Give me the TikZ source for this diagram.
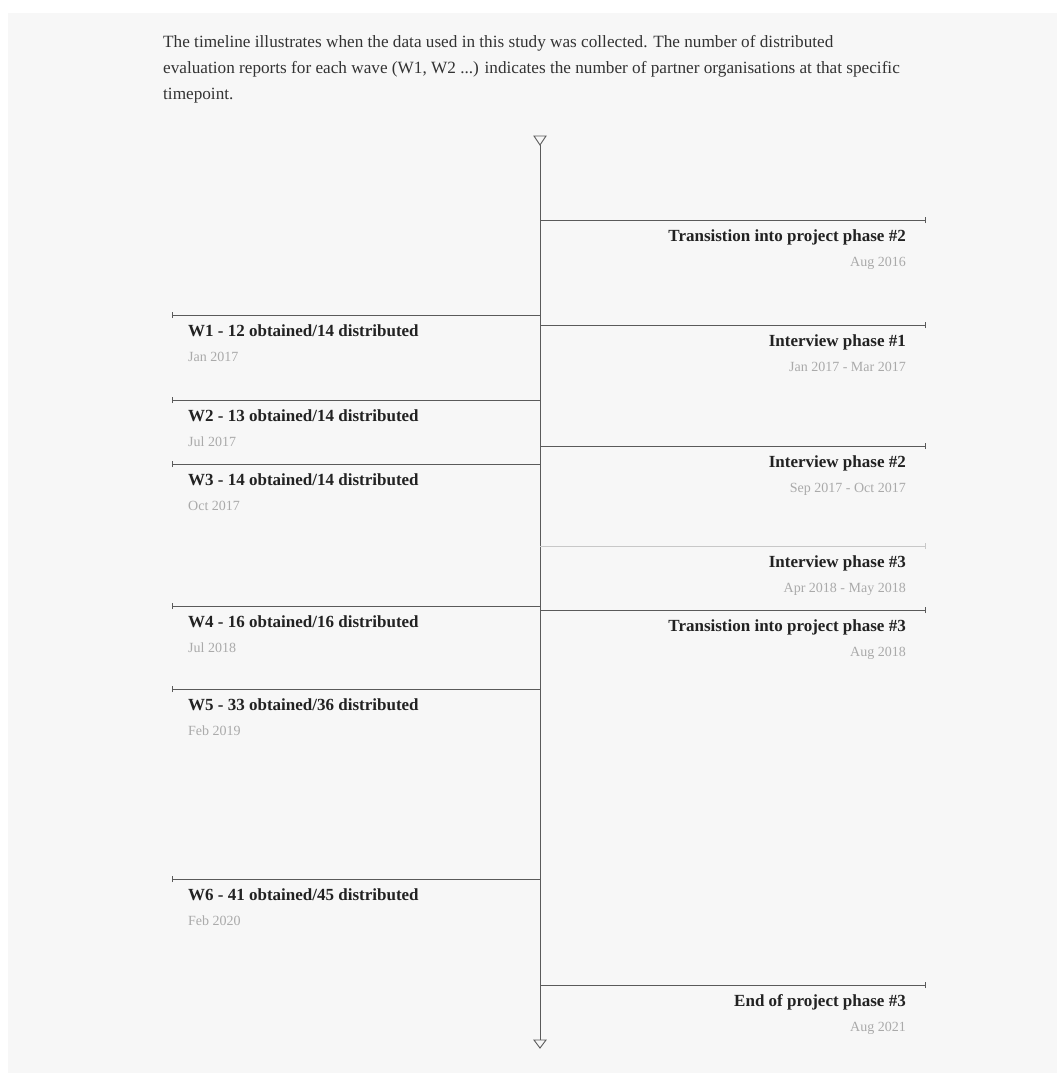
\documentclass[tikz,border=0pt]{standalone}
\usepackage{fontspec}
\setmainfont{Liberation Serif}
\definecolor{bgc}{HTML}{F7F7F7}
\definecolor{linec}{HTML}{5A5A5A}
\definecolor{lightl}{HTML}{C8C8C8}
\definecolor{titlec}{HTML}{222222}
\definecolor{datec}{HTML}{AAAAAA}
\definecolor{headc}{HTML}{333333}
\begin{document}
\begin{tikzpicture}[x=1pt,y=-1pt,
  evline/.style={draw=linec, line width=1pt},
  evlight/.style={draw=lightl, line width=1pt},
  evtitle/.style={inner sep=0pt, text=titlec, font=\fontsize{17}{19}\selectfont\bfseries},
  evdate/.style={inner sep=0pt, text=datec, font=\fontsize{14}{16}\selectfont},
  tri/.style={draw=linec, line width=0.9pt, fill=bgc}
]
\useasboundingbox (0,0) rectangle (1057,1073);
\fill[bgc] (8,13) rectangle (1057,1073);
% header
\node[anchor=north west, inner sep=0pt, align=left, text=headc,
  font=\fontsize{17.2}{26}\selectfont] (head) at (163,35)
  {The timeline illustrates when the data used in this study was collected. The number of distributed\\
   evaluation reports for each wave (W1, W2 ...) indicates the number of partner organisations at that specific\\
   timepoint.};
% axis
\coordinate (top) at (540,145);
\coordinate (bot) at (540,1040);
\draw[linec, line width=1pt] (top) -- (bot);
\draw[tri] (534,136) -- (546,136) -- (540,145) -- cycle;
\draw[tri] (534,1040) -- (546,1040) -- (540,1048) -- cycle;
% right events
\foreach \n/\y/\t/\d/\s in {
  r1/220/{Transistion into project phase \#2}/{Aug 2016}/evline,
  r2/325/{Interview phase \#1}/{Jan 2017 - Mar 2017}/evline,
  r3/446/{Interview phase \#2}/{Sep 2017 - Oct 2017}/evline,
  r4/546/{Interview phase \#3}/{Apr 2018 - May 2018}/evlight,
  r5/610/{Transistion into project phase \#3}/{Aug 2018}/evline,
  r6/985/{End of project phase \#3}/{Aug 2021}/evline}{
  \coordinate (\n a) at (540,\y);
  \coordinate (\n b) at (925,\y);
  \draw[\s] (\n a) -- (\n b);
  \draw[\s] ([yshift=-3]\n b) -- ([yshift=3]\n b);
  \node[evtitle, anchor=base east] (\n t) at (906,\y+21) {\t};
  \node[evdate, anchor=base east] (\n d) at (906,\y+46) {\d};
}
% left events
\foreach \n/\y/\t/\d in {
  l1/315/{W1 - 12 obtained/14 distributed}/{Jan 2017},
  l2/400/{W2 - 13 obtained/14 distributed}/{Jul 2017},
  l3/464/{W3 - 14 obtained/14 distributed}/{Oct 2017},
  l4/606/{W4 - 16 obtained/16 distributed}/{Jul 2018},
  l5/689/{W5 - 33 obtained/36 distributed}/{Feb 2019},
  l6/879/{W6 - 41 obtained/45 distributed}/{Feb 2020}}{
  \coordinate (\n a) at (540,\y);
  \coordinate (\n b) at (172,\y);
  \draw[evline] (\n a) -- (\n b);
  \draw[evline] ([yshift=-3]\n b) -- ([yshift=3]\n b);
  \node[evtitle, anchor=base west] (\n t) at (188,\y+21) {\t};
  \node[evdate, anchor=base west] (\n d) at (188,\y+46) {\d};
}
\end{tikzpicture}
\end{document}
